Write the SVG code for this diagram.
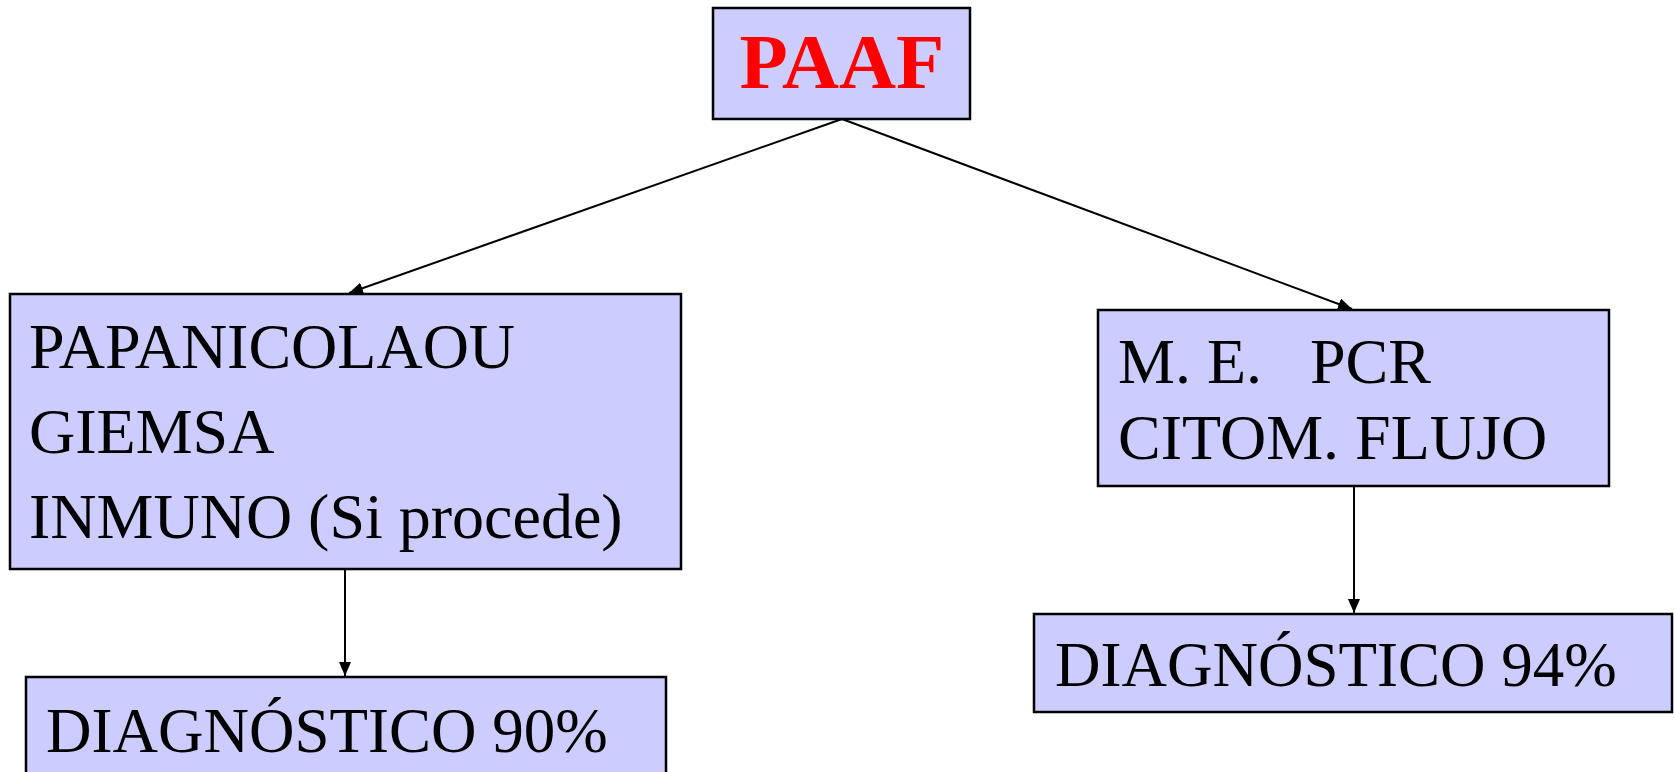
<svg xmlns="http://www.w3.org/2000/svg" width="1674" height="772" viewBox="0 0 1674 772">
<style>
.box{fill:#CCCCFF;stroke:#000;stroke-width:2.5}
.t{font-family:"Liberation Serif","Times New Roman",serif;font-size:64px;fill:#000}
.d{font-size:63px}
.title{font-family:"Liberation Serif","Times New Roman",serif;font-size:79px;font-weight:bold;fill:#FF0000}
.c{stroke:#000;stroke-width:2;fill:none;marker-end:url(#ah)}
</style>
<defs>
<marker id="ah" markerWidth="14" markerHeight="12" refX="14" refY="6" orient="auto" markerUnits="userSpaceOnUse">
<path d="M0,0 L14,6 L0,12 Z" fill="#000"/>
</marker>
</defs>
<rect width="1674" height="772" fill="#fff"/>
<g id="connectors">
<line class="c" x1="842" y1="119" x2="349" y2="293"/>
<line class="c" x1="842" y1="119" x2="1352" y2="309"/>
<line class="c" x1="345" y1="569" x2="345" y2="676"/>
<line class="c" x1="1354" y1="486" x2="1354" y2="613"/>
</g>
<g id="paaf">
<rect class="box" x="713" y="8" width="257" height="111"/>
<text class="title" x="842" y="88" text-anchor="middle">PAAF</text>
</g>
<g id="tinciones">
<rect class="box" x="10" y="294" width="671" height="275"/>
<text class="t" x="29" y="368">PAPANICOLAOU</text>
<text class="t" x="29" y="453">GIEMSA</text>
<text class="t" x="29" y="538">INMUNO (Si procede)</text>
</g>
<g id="tecnicas">
<rect class="box" x="1098" y="310" width="511" height="176"/>
<text class="t" x="1118" y="383" xml:space="preserve">M. E.   PCR</text>
<text class="t" x="1118" y="459">CITOM. FLUJO</text>
</g>
<g id="diag90">
<rect class="box" x="26" y="677" width="640" height="110"/>
<text class="t d" x="46" y="752">DIAGNÓSTICO 90%</text>
</g>
<g id="diag94">
<rect class="box" x="1034" y="614" width="638" height="98"/>
<text class="t d" x="1055" y="686">DIAGNÓSTICO 94%</text>
</g>
</svg>
